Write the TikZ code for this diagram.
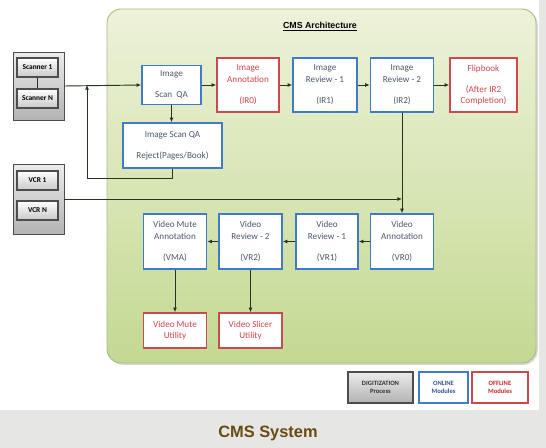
\documentclass[tikz,border=0pt]{standalone}
\usepackage{fontspec}
\setmainfont{Carlito}
\newfontfamily\arialfont{Liberation Sans}
\usetikzlibrary{arrows.meta,shadows}

\begin{document}
\begin{tikzpicture}[x=0.03cm,y=-0.03cm,
    >={Latex[length=4pt,width=3.4pt]},
    sz/.style 2 args={minimum width=#1*0.03cm,minimum height=#2*0.03cm},
    online/.style={draw=clBlue,line width=1.3pt,fill=white,text=clText,align=center,
        inner sep=0pt,font=\fontsize{7.8}{10}\selectfont},
    offline/.style={online,draw=clRed,text=clRedText},
    rack/.style={draw=clGreyDraw,line width=0.8pt,top color=clGreyTop,bottom color=clGreyBot,
        drop shadow={shadow xshift=1.2pt,shadow yshift=-1.2pt,opacity=0.35}},
    unit/.style={draw=clGreyDraw,line width=0.9pt,top color=white,bottom color=clGreyMid,
        inner sep=0pt,sz={41}{19},font=\bfseries\fontsize{6.3}{7}\selectfont},
    flow/.style={draw=clLine,line width=0.8pt,->},
    key/.style={align=center,inner sep=0pt,font=\bfseries\fontsize{5.6}{7}\selectfont,
        drop shadow={shadow xshift=1pt,shadow yshift=-1pt,opacity=0.3}},
  ]
    \definecolor{clBlue}{HTML}{3F7BC6}
    \definecolor{clRed}{HTML}{CC4A4F}
    \definecolor{clText}{HTML}{4C586F}
    \definecolor{clRedText}{HTML}{D0454B}
    \definecolor{clLine}{HTML}{27321F}
    \definecolor{clPanelTop}{HTML}{EDF2D9}
    \definecolor{clPanelBot}{HTML}{C3D992}
    \definecolor{clPanelDraw}{HTML}{A9BB88}
    \definecolor{clGreyTop}{HTML}{EBEBEB}
    \definecolor{clGreyMid}{HTML}{C9C9C9}
    \definecolor{clGreyBot}{HTML}{B3B3B3}
    \definecolor{clGreyDraw}{HTML}{4D4D4D}
    \definecolor{clBand}{HTML}{E6E6E4}
    \definecolor{clBrown}{HTML}{6A4A12}
    \definecolor{clOnline}{HTML}{2F5597}
    \definecolor{clOffline}{HTML}{C3282E}

    % page, bottom band and side strip
    \fill[white] (0,0) rectangle (546,448);
    \fill[clBand] (0,410) rectangle (546,448);
    \fill[clBand] (539,0) rectangle (546,410);

    % architecture panel
    \draw[draw=clPanelDraw,line width=0.8pt,top color=clPanelTop,bottom color=clPanelBot,
        rounded corners=0.42cm,drop shadow={shadow xshift=1.5pt,shadow yshift=-1.5pt,opacity=0.3}]
        (107,9) rectangle (536,363);
    \node[font=\arialfont\bfseries\fontsize{7.5}{9}\selectfont] (title) at (320,27) {\underline{CMS Architecture}};

    % digitization devices
    \node[rack,sz={51}{68}] (scanners) at (38.5,86) {};
    \node[unit] (sc1) at (37.5,67.5) {Scanner 1};
    \node[unit] (scN) at (37.5,98.5) {Scanner N};
    \draw[clLine,line width=0.8pt] (sc1) -- (scN);
    \node[rack,sz={51}{70}] (vcrs) at (38.5,199) {};
    \node[unit] (vcr1) at (37.5,180.5) {VCR 1};
    \node[unit] (vcrN) at (37.5,210.5) {VCR N};

    % image modules
    \node[online,sz={59}{39}] (scan) at (171.5,85) {Image\\[8pt]Scan\ \ QA};
    \node[offline,sz={62}{54}] (ann) at (248,85) {Image\\Annotation\\[8pt](IR0)};
    \node[online,sz={64}{54}] (ir1) at (325,85) {Image\\Review - 1\\[8pt](IR1)};
    \node[online,sz={63}{54}] (ir2) at (402,85) {Image\\Review - 2\\[8pt](IR2)};
    \node[offline,sz={67}{54}] (flip) at (483.5,85) {Flipbook\\[8pt](After IR2\\Completion)};
    \node[online,sz={99}{45}] (reject) at (172.5,145.5) {Image Scan QA\\[8pt]Reject(Pages/Book)};

    % video modules
    \node[online,sz={63}{55}] (vr0) at (402,241.5) {Video\\Annotation\\[8pt](VR0)};
    \node[online,sz={62}{55}] (vr1) at (327,241.5) {Video\\Review - 1\\[8pt](VR1)};
    \node[online,sz={63}{55}] (vr2) at (250.5,241.5) {Video\\Review - 2\\[8pt](VR2)};
    \node[online,sz={63}{55}] (vma) at (175,241.5) {Video Mute\\Annotation\\[8pt](VMA)};
    \node[offline,sz={63}{35}] (vmu) at (175,330.5) {Video Mute\\Utility};
    \node[offline,sz={63}{35}] (vsu) at (250.5,330.5) {Video Slicer\\Utility};

    % connectors
    \coordinate (back) at (87,178);
    \draw[flow] (scanners.east) -- (scan.west);
    \draw[flow] (scan.south) -- (scan.south |- reject.north);
    \draw[flow] (reject.south) |- (back) -- (back |- scan.west);
    \draw[flow] (scan) -- (ann);
    \draw[flow] (ann) -- (ir1);
    \draw[flow] (ir1) -- (ir2);
    \draw[flow] (ir2) -- (flip);
    \draw[flow] (ir2) -- (vr0);
    \draw[flow] (vcrs.east) -- (vcrs.east -| ir2.south);
    \draw[flow] (vr0) -- (vr1);
    \draw[flow] (vr1) -- (vr2);
    \draw[flow] (vr2) -- (vma);
    \draw[flow] (vma) -- (vmu);
    \draw[flow] (vr2) -- (vsu);

    % legend
    \node[key,sz={65}{31},draw=clGreyDraw,line width=0.9pt,top color=clGreyTop,bottom color=clGreyBot,
        text=black!80] (digi) at (380.5,387.5) {DIGITIZATION\\Process};
    \node[key,sz={49}{31},draw=clBlue,line width=1.2pt,fill=white,text=clOnline] (onl) at (443.5,387.5) {ONLINE\\Modules};
    \node[key,sz={56}{31},draw=clRed,line width=1.2pt,fill=white,text=clOffline] (offl) at (500,387.5) {OFFLINE\\Modules};

    \node[font=\arialfont\bfseries\fontsize{14}{16}\selectfont,text=clBrown] (caption) at (268,433) {CMS System};
\end{tikzpicture}
\end{document}
